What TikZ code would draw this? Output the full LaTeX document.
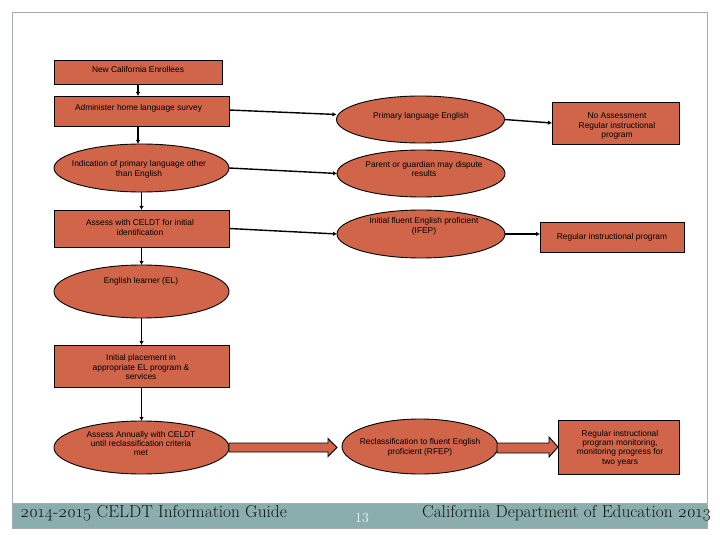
\documentclass[tikz,border=0pt]{standalone}
\usepackage{fontspec}
\setmainfont{Latin Modern Roman}
\newfontfamily\boxfont{Liberation Sans}
\newfontfamily\footfont[Numbers=OldStyle]{Latin Modern Roman}
\usetikzlibrary{shapes.geometric,arrows.meta,calc}
\definecolor{boxfill}{HTML}{D0654A}
\definecolor{bandfill}{HTML}{8AADAD}
\definecolor{framegray}{HTML}{A4ABB0}
\tikzset{
  shp/.style={draw=black, line width=0.9pt, fill=boxfill, inner sep=0pt, outer sep=0pt},
  rbox/.style={shp, rectangle},
  ebox/.style={shp, ellipse},
  txt/.style={font=\boxfont\fontsize{8.4}{9.4}\selectfont, align=center, inner sep=0pt, text=black},
  conn/.style={line width=1.4pt, -{Latex[length=4pt,width=4.5pt]}},
  footer/.style={font=\footfont\fontsize{17.3}{17.3}\selectfont, text=black!92, inner sep=0pt, anchor=base west}
}
\begin{document}
\begin{tikzpicture}[x=1pt,y=-1pt]
\useasboundingbox (0,0) rectangle (720,540);
% frame and footer band
\draw[framegray, line width=0.8pt] (12,503) -- (12,12) -- (707,12) -- (707,503);
\draw[framegray, fill=bandfill, line width=0.8pt] (12,503) rectangle (707,528);
% shapes
\node[rbox, minimum width=168pt, minimum height=24pt] (enroll) at (138,72) {};
\node[rbox, minimum width=175pt, minimum height=30pt] (survey) at (141.5,111) {};
\node[ebox, minimum width=175pt, minimum height=48pt] (indic) at (141.5,168) {};
\node[rbox, minimum width=175pt, minimum height=37pt] (assess) at (141.5,228.5) {};
\node[ebox, minimum width=175pt, minimum height=53pt] (el) at (141.5,291.5) {};
\node[rbox, minimum width=175pt, minimum height=42pt] (place) at (141.5,366) {};
\node[ebox, minimum width=175pt, minimum height=53pt] (annual) at (141.5,447.5) {};
\node[ebox, minimum width=168pt, minimum height=47pt] (prim) at (420.5,119.5) {};
\node[rbox, minimum width=127pt, minimum height=42pt] (noassess) at (615.5,123) {};
\node[ebox, minimum width=168pt, minimum height=47pt] (parent) at (421,173.5) {};
\node[ebox, minimum width=168pt, minimum height=48pt] (ifep) at (421,234) {};
\node[rbox, minimum width=144pt, minimum height=30pt] (regular) at (612,237) {};
\node[ebox, minimum width=156pt, minimum height=55pt] (rfep) at (420,446.5) {};
\node[rbox, minimum width=121pt, minimum height=54pt] (monitor) at (618.5,447) {};
% texts
\node[txt] (tenroll) at (138,69) {New California Enrollees};
\node[txt] (tsurvey) at (138.5,108) {Administer home language survey};
\node[txt] (tindic) at (139,169.5) {Indication of primary language other\\than English};
\node[txt] (tassess) at (140,227.5) {Assess with CELDT for initial\\identification};
\node[txt] (tel) at (141,281) {English learner (EL)};
\node[txt] (tplace) at (141,367) {Initial placement in\\appropriate EL program \&\\services};
\node[txt] (tannual) at (141,443.5) {Assess Annually with CELDT\\until reclassification criteria\\met};
\node[txt] (tprim) at (421,116) {Primary language English};
\node[txt] (tnoassess) at (617,126) {No Assessment\\Regular instructional\\program};
\node[txt] (tparent) at (424,169) {Parent or guardian may dispute\\results};
\node[txt] (tifep) at (424,226.5) {Initial fluent English proficient\\(IFEP)};
\node[txt] (tregular) at (612,237) {Regular instructional program};
\node[txt] (trfep) at (420,447.5) {Reclassification to fluent English\\proficient (RFEP)};
\node[txt] (tmonitor) at (620,448) {Regular instructional\\program monitoring,\\monitoring progress for\\two years};
% vertical connectors
\draw[conn] (enroll.south) -- (enroll.south |- survey.north);
\draw[conn] (enroll.south |- survey.south) -- (enroll.south |- indic.north);
\draw[conn] (indic.south) -- (assess.north);
\draw[conn] (assess.south) -- (el.north);
\draw[conn] (el.south) -- (place.north);
\draw[conn] (place.south) -- (annual.north);
% horizontal connectors
\draw[conn] ([yshift=1pt]survey.east) -- ([yshift=5pt]prim.west);
\draw[conn] (indic.east) -- (parent.west);
\draw[conn] (assess.east) -- (ifep.west);
\draw[conn] (prim.east) -- (noassess.west);
\draw[conn] (ifep.east) -- ([yshift=3pt]regular.west);
% block arrows
\draw[shp] let \p1=(annual.east), \p2=(rfep.west) in
  (\x1,\y1+4.5pt) -- (\x2-14pt,\y1+4.5pt) -- (\x2-14pt,\y1+9pt) -- (\x2-5pt,\y1)
  -- (\x2-14pt,\y1-9pt) -- (\x2-14pt,\y1-4.5pt) -- (\x1,\y1-4.5pt) -- cycle;
\draw[shp] let \p1=(rfep.east), \p2=(monitor.west) in
  (\x1-1pt,\y1+3.5pt) -- (\x2-9pt,\y1+3.5pt) -- (\x2-9pt,\y1+9.5pt) -- (\x2,\y1-0.5pt)
  -- (\x2-9pt,\y1-10.5pt) -- (\x2-9pt,\y1-6.5pt) -- (\x1-1pt,\y1-6.5pt) -- cycle;
% footer texts
\node[footer] (foot1) at (20,517) {2014-2015 CELDT Information Guide};
\node[footer, font=\rmfamily\fontsize{14}{14}\selectfont, text=white!88!bandfill] (pagenum) at (355,522) {13};
\node[footer] (foot2) at (422,517) {California Department of Education 2013};
\end{tikzpicture}
\end{document}
